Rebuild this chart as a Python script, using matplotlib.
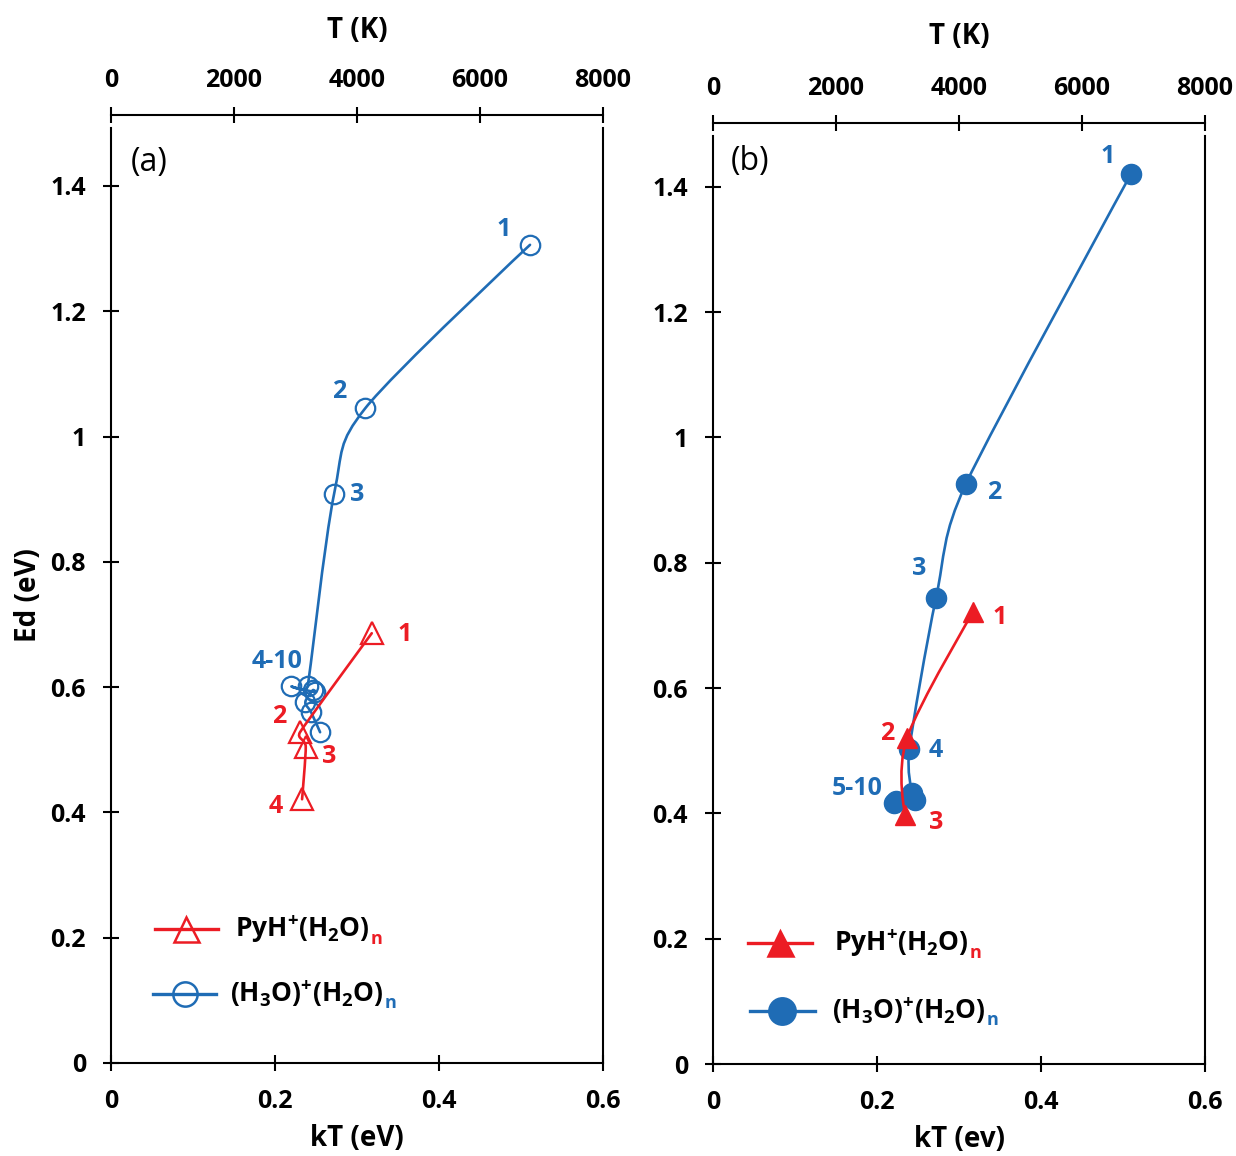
import numpy as np
import matplotlib
matplotlib.use("Agg")
import matplotlib.pyplot as plt
from matplotlib.path import Path
from matplotlib.patches import PathPatch
from matplotlib.ticker import FuncFormatter

plt.rcParams["font.family"] = ["Open Sans", "DejaVu Sans"]
plt.rcParams["font.weight"] = "bold"
plt.rcParams["axes.labelweight"] = "bold"
plt.rcParams["mathtext.fontset"] = "custom"
plt.rcParams["mathtext.rm"] = "Open Sans:bold"
plt.rcParams["mathtext.it"] = "Open Sans:bold"
plt.rcParams["mathtext.bf"] = "Open Sans:bold"
plt.rcParams["mathtext.default"] = "rm"

RED = "#EC1C24"
BLUE = "#1F6CB5"

# ---- data (kT in eV, Ed in eV) ----
# panel (a)
a_pyh_kt = [0.318, 0.2305, 0.2375, 0.233]
a_pyh_ed = [0.686, 0.528, 0.505, 0.421]
a_h3o_kt = [0.511, 0.310, 0.272, 0.240, 0.220, 0.249, 0.246, 0.237, 0.244, 0.255]
a_h3o_ed = [1.306, 1.045, 0.908, 0.602, 0.601, 0.592, 0.595, 0.576, 0.560, 0.528]

# panel (b)
b_pyh_kt = [0.3175, 0.2365, 0.2345]
b_pyh_ed = [0.722, 0.520, 0.397]
b_h3o_kt = [0.510, 0.3085, 0.272, 0.2394, 0.2424, 0.2444, 0.246, 0.221, 0.223, 0.244]
b_h3o_ed = [1.421, 0.926, 0.744, 0.502, 0.432, 0.424, 0.421, 0.417, 0.419, 0.425]

kt_ticks = [0, 0.2, 0.4, 0.6]
ed_ticks = [0, 0.2, 0.4, 0.6, 0.8, 1.0, 1.2, 1.4]
t_ticks = [0, 2000, 4000, 6000, 8000]

# point labels: (index, text, offset in points)
a_pyh_labels = [(0, "1", (24, -1)), (1, "2", (-15, 11)), (2, "3", (17, -7)), (3, "4", (-19, -5))]
a_h3o_labels = [(0, "1", (-19, 11)), (1, "2", (-19, 12)), (2, "3", (17, 0)), (4, "4-10", (-10, 18))]
b_pyh_labels = [(0, "1", (19, -4)), (1, "2", (-14, 3)), (2, "3", (22, -5))]
b_h3o_labels = [(0, "1", (-17, 12)), (1, "2", (20, -6)), (2, "3", (-12, 21)),
                (3, "4", (19, -1)), (7, "5-10", (-27, 10))]


def handle(p0, p1, p2):
    # tangent handle at p1: along p2-p0, 1/6 of its length, capped at half of
    # either neighbouring segment (the spreadsheet "smoothed line" rule)
    d02 = np.hypot(*(p2 - p0))
    if d02 == 0:
        return np.zeros(2)
    h = min(d02 / 6, np.hypot(*(p1 - p0)) / 2, np.hypot(*(p2 - p1)) / 2)
    return (p2 - p0) / d02 * h


def smooth_line(ax, xs, ys, color, zorder):
    p = ax.transData.transform(np.column_stack([xs, ys]))
    ext = np.vstack([p[0], p, p[-1]])
    verts = [p[0]]
    codes = [Path.MOVETO]
    for i in range(len(p) - 1):
        p0, p1, p2, p3 = ext[i], ext[i + 1], ext[i + 2], ext[i + 3]
        verts += [p1 + handle(p0, p1, p2), p2 - handle(p1, p2, p3), p2]
        codes += [Path.CURVE4] * 3
    verts = ax.transData.inverted().transform(np.array(verts))
    ax.add_patch(PathPatch(Path(verts, codes), fill=False, edgecolor=color,
                           lw=1.9, capstyle="round", joinstyle="round", zorder=zorder))


def point_labels(ax, xs, ys, labels, color):
    for i, txt, off in labels:
        ax.annotate(txt, xy=(xs[i], ys[i]), xytext=off, textcoords="offset points",
                    ha="center", va="center", color=color, fontsize=18)


def legend_entry(ax, x0, x1, y, marker, ms, mfc, color, label, tx):
    ax.plot([x0, (x0 + x1) / 2, x1], [y, y, y], transform=ax.transAxes, color=color,
            lw=2.4, marker=marker, markevery=[1], ms=ms, mfc=mfc, mec=color, mew=1.8,
            clip_on=False)
    t = ax.text(tx, y, label, transform=ax.transAxes, fontsize=19, va="center", ha="left")
    ax.annotate("n", xy=(1, 0), xycoords=t, xytext=(0.5, -2), textcoords="offset points",
                color=color, fontsize=13, va="bottom", ha="left")


def setup(ax, ymax, xlabel, top_pad):
    ax.set_xlim(0, 0.6)
    ax.set_ylim(0, ymax)
    ax.spines["top"].set_visible(False)
    for s in ax.spines.values():
        s.set_linewidth(1.5)
    fmt = FuncFormatter(lambda v, _: f"{v:g}")
    ax.set_xticks(kt_ticks)
    ax.set_yticks(ed_ticks)
    ax.xaxis.set_major_formatter(fmt)
    ax.yaxis.set_major_formatter(fmt)
    ax.tick_params(direction="inout", length=12, width=1.5, labelsize=18)
    ax.tick_params(axis="x", pad=13)
    ax.tick_params(axis="y", pad=12)
    ax.set_xlabel(xlabel, fontsize=20, labelpad=7)

    top = ax.twiny()
    top.set_xlim(0, 8000)
    top.set_xticks(t_ticks)
    for s in ["left", "right", "bottom"]:
        top.spines[s].set_visible(False)
    top.spines["top"].set_linewidth(1.5)
    top.spines["top"].set_position(("outward", 9.5))
    top.tick_params(direction="inout", length=12, width=1.5, labelsize=18, pad=10)
    top.set_xlabel("T (K)", fontsize=20, labelpad=top_pad)
    return top


fig = plt.figure(figsize=(12.36, 11.56), dpi=100)

# ---------------- panel (a) ----------------
ax1 = fig.add_axes([111 / 1236, 93 / 1156, 492 / 1236, 935 / 1156])
setup(ax1, 1.4925, "kT (eV)", 21)
ax1.set_ylabel("Ed (eV)", fontsize=20, labelpad=5)

smooth_line(ax1, a_h3o_kt, a_h3o_ed, BLUE, 2)
ax1.plot(a_h3o_kt, a_h3o_ed, ls="none", marker="o", ms=14, mfc="none", mec=BLUE, mew=1.6, zorder=3)
smooth_line(ax1, a_pyh_kt, a_pyh_ed, RED, 4)
ax1.plot(a_pyh_kt, a_pyh_ed, ls="none", marker="^", ms=16, mfc="none", mec=RED, mew=1.6, zorder=5)
point_labels(ax1, a_h3o_kt, a_h3o_ed, a_h3o_labels, BLUE)
point_labels(ax1, a_pyh_kt, a_pyh_ed, a_pyh_labels, RED)

ax1.text(0.077, 0.9636, "(a)", transform=ax1.transAxes, fontsize=23, fontweight="normal",
         ha="center", va="center")
legend_entry(ax1, 0.0894, 0.2175, 0.1433, "^", 18, "none", RED,
             "PyH$^{+}$(H$_{2}$O)", 0.252)
legend_entry(ax1, 0.0854, 0.2134, 0.0738, "o", 17.5, "none", BLUE,
             "(H$_{3}$O)$^{+}$(H$_{2}$O)", 0.242)

# ---------------- panel (b) ----------------
ax2 = fig.add_axes([713 / 1236, 92 / 1156, 492 / 1236, 928 / 1156])
setup(ax2, 1.481, "kT (ev)", 23)

smooth_line(ax2, b_h3o_kt, b_h3o_ed, BLUE, 2)
ax2.plot(b_h3o_kt, b_h3o_ed, ls="none", marker="o", ms=14.5, mfc=BLUE, mec=BLUE, zorder=3)
smooth_line(ax2, b_pyh_kt, b_pyh_ed, RED, 4)
ax2.plot(b_pyh_kt, b_pyh_ed, ls="none", marker="^", ms=14, mfc=RED, mec=RED, zorder=5)
point_labels(ax2, b_h3o_kt, b_h3o_ed, b_h3o_labels, BLUE)
point_labels(ax2, b_pyh_kt, b_pyh_ed, b_pyh_labels, RED)

ax2.text(0.075, 0.973, "(b)", transform=ax2.transAxes, fontsize=23, fontweight="normal",
         ha="center", va="center")
legend_entry(ax2, 0.0711, 0.201, 0.1304, "^", 18, RED, RED,
             "PyH$^{+}$(H$_{2}$O)", 0.246)
legend_entry(ax2, 0.0752, 0.2073, 0.0571, "o", 19, BLUE, BLUE,
             "(H$_{3}$O)$^{+}$(H$_{2}$O)", 0.242)

fig.savefig("out.png", dpi=100)
